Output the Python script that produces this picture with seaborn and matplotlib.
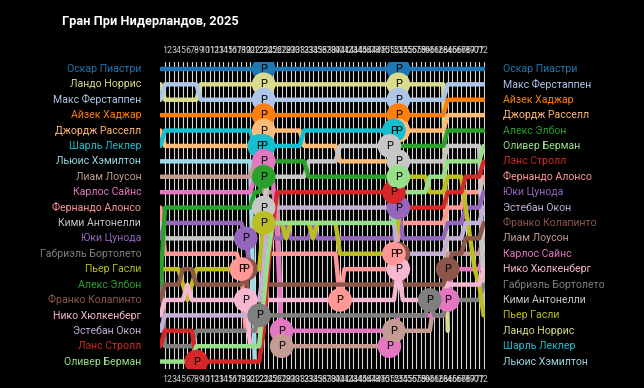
import numpy as np
import pandas as pd
import matplotlib
matplotlib.use("Agg")
import matplotlib.pyplot as plt
import seaborn as sns

TITLE = "Гран При Нидерландов, 2025"
N_LAPS = 72

# final classification order (colours are tab20 in this order)
final_order = ["Оскар Пиастри", "Макс Ферстаппен", "Айзек Хаджар", "Джордж Расселл",
               "Алекс Элбон", "Оливер Берман", "Лэнс Стролл", "Фернандо Алонсо",
               "Юки Цунода", "Эстебан Окон", "Франко Колапинто", "Лиам Лоусон",
               "Карлос Сайнс", "Нико Хюлкенберг", "Габриэль Бортолето", "Кими Антонелли",
               "Пьер Гасли", "Ландо Норрис", "Шарль Леклер", "Льюис Хэмилтон"]

grid_order = ["Оскар Пиастри", "Ландо Норрис", "Макс Ферстаппен", "Айзек Хаджар",
              "Джордж Расселл", "Шарль Леклер", "Льюис Хэмилтон", "Лиам Лоусон",
              "Карлос Сайнс", "Фернандо Алонсо", "Кими Антонелли", "Юки Цунода",
              "Габриэль Бортолето", "Пьер Гасли", "Алекс Элбон", "Франко Колапинто",
              "Нико Хюлкенберг", "Эстебан Окон", "Лэнс Стролл", "Оливер Берман"]

# lap-by-lap positions from lap 0 (grid), written as (position, laps held)
positions = {
    "Оскар Пиастри":      [(1, 73)],
    "Ландо Норрис":       [(2, 1), (3, 8), (2, 55), (18, 1)],
    "Макс Ферстаппен":    [(3, 1), (2, 8), (3, 55), (2, 9)],
    "Айзек Хаджар":       [(4, 64), (3, 9)],
    "Джордж Расселл":     [(5, 1), (6, 20), (5, 11), (6, 8), (7, 12), (6, 1), (5, 11), (4, 9)],
    "Шарль Леклер":       [(6, 1), (5, 20), (6, 11), (5, 21)],
    "Льюис Хэмилтон":     [(7, 21), (20, 1)],
    "Лиам Лоусон":        [(8, 21), (7, 2), (9, 4), (19, 24), (18, 10), (16, 3), (13, 8), (12, 1)],
    "Карлос Сайнс":       [(9, 21), (8, 2), (7, 1), (8, 2), (12, 1), (18, 24), (19, 2), (17, 11),
                           (16, 1), (14, 7), (13, 1)],
    "Фернандо Алонсо":    [(10, 1), (13, 17), (14, 1), (18, 4), (13, 17), (16, 1), (14, 11), (13, 1),
                           (12, 1), (11, 10), (10, 4), (9, 4), (8, 1)],
    "Кими Антонелли":     [(11, 1), (12, 20), (11, 2), (10, 1), (8, 9), (7, 7), (6, 12), (7, 12),
                           (6, 8), (16, 1)],
    "Юки Цунода":         [(12, 1), (11, 18), (12, 1), (14, 3), (12, 5), (11, 1), (12, 5), (11, 1),
                           (12, 18), (10, 1), (12, 10), (11, 4), (10, 4), (9, 1)],
    "Габриэль Бортолето": [(13, 1), (19, 7), (18, 14), (17, 38), (16, 1), (17, 3), (16, 8), (15, 1)],
    "Пьер Гасли":         [(14, 5), (15, 1), (16, 1), (15, 1), (14, 15), (11, 5), (12, 1), (11, 5),
                           (12, 1), (11, 5), (13, 13), (11, 1), (8, 6), (9, 4), (8, 4), (10, 1),
                           (12, 1), (14, 1), (15, 1), (17, 1)],
    "Алекс Элбон":        [(15, 1), (10, 20), (9, 2), (8, 1), (7, 9), (8, 20), (6, 11), (5, 9)],
    "Франко Колапинто":   [(16, 1), (15, 4), (14, 3), (15, 11), (14, 1), (17, 3), (15, 30), (13, 1),
                           (15, 10), (14, 1), (13, 3), (12, 4), (11, 1)],
    "Нико Хюлкенберг":    [(17, 1), (16, 5), (15, 1), (16, 13), (19, 3), (16, 30), (14, 1), (16, 10),
                           (15, 8), (14, 1)],
    "Эстебан Окон":       [(18, 1), (17, 20), (16, 2), (14, 1), (10, 28), (11, 1), (13, 11), (12, 4),
                           (11, 4), (10, 1)],
    "Лэнс Стролл":        [(19, 1), (18, 7), (20, 15), (18, 1), (14, 1), (11, 1), (9, 27), (10, 11),
                           (9, 4), (8, 4), (7, 1)],
    "Оливер Берман":      [(20, 8), (19, 15), (16, 1), (13, 1), (11, 28), (8, 1), (9, 6), (8, 4),
                           (7, 8), (6, 1)],
}

pit_laps = {
    "Оскар Пиастри": [23, 53], "Ландо Норрис": [23, 53], "Макс Ферстаппен": [23, 53],
    "Айзек Хаджар": [23, 53], "Джордж Расселл": [23, 53], "Шарль Леклер": [22, 23, 52],
    "Карлос Сайнс": [23, 27, 51, 64], "Лиам Лоусон": [27, 52], "Алекс Элбон": [23],
    "Кими Антонелли": [23, 51, 53], "Пьер Гасли": [23], "Юки Цунода": [19, 53],
    "Франко Колапинто": [19, 53, 64], "Нико Хюлкенберг": [19, 53], "Габриэль Бортолето": [22, 60],
    "Лэнс Стролл": [8, 52], "Оливер Берман": [53], "Фернандо Алонсо": [18, 40, 52],
}

palette = dict(zip(final_order, sns.color_palette("tab20", 20)))

rows = []
for name, runs in positions.items():
    laps_pos = np.repeat([p for p, n in runs], [n for p, n in runs])
    for lap, p in enumerate(laps_pos):
        rows.append({"driver": name, "lap": lap, "pos": p})
df = pd.DataFrame(rows)

pit_rows = []
for name, laps in pit_laps.items():
    for lap in laps:
        p = df[(df.driver == name) & (df.lap == lap)].pos
        if len(p):
            pit_rows.append({"driver": name, "lap": lap, "pos": p.iloc[0]})
pits = pd.DataFrame(pit_rows)

sns.set_theme(style="dark")
plt.rcParams["font.family"] = ["Roboto", "DejaVu Sans"]

fig = plt.figure(figsize=(6.44, 3.88), dpi=100, facecolor="black")
ax = fig.add_axes([160 / 644, 1 - 368.5 / 388, 325 / 644, 306.5 / 388])
ax.set_facecolor("black")

sns.lineplot(data=df, x="lap", y="pos", hue="driver", palette=palette, estimator=None,
             linewidth=3.2, legend=False, ax=ax, zorder=3)
sns.scatterplot(data=pits, x="lap", y="pos", hue="driver", palette=palette, s=290,
                linewidth=0, legend=False, ax=ax, zorder=4)
for _, r in pits.iterrows():
    ax.text(r.lap, r.pos, "P", ha="center", va="center", fontsize=8, color="black", zorder=5)

ax.set_xlim(-0.1, 72.3)
ax.set_ylim(20.45, 0.55)
ax.set_xticks(range(1, N_LAPS + 1))
ax.set_xticklabels([str(i) for i in range(1, N_LAPS + 1)])
ax.tick_params(axis="x", top=True, labeltop=True, bottom=True, labelbottom=True,
               length=0, pad=5, labelsize=6.3, colors="#cccccc")
ax.set_yticks([])
ax.grid(axis="x", color="white", linewidth=0.8, alpha=0.85)
ax.grid(axis="y", visible=False)
ax.set_axisbelow(True)
ax.set_xlabel("")
ax.set_ylabel("")
for s in ax.spines.values():
    s.set_visible(False)

for i, name in enumerate(grid_order):
    ax.text(-0.058, i + 1, name, transform=ax.get_yaxis_transform(), ha="right", va="center",
            fontsize=7.6, color=palette[name])
for i, name in enumerate(final_order):
    ax.text(1.055, i + 1, name, transform=ax.get_yaxis_transform(), ha="left", va="center",
            fontsize=7.6, color=palette[name])

fig.text(62 / 644, 1 - 22 / 388, TITLE, ha="left", va="center", fontsize=9.2,
         fontweight="bold", color="white")

fig.savefig("out.png", dpi=100, facecolor="black")
